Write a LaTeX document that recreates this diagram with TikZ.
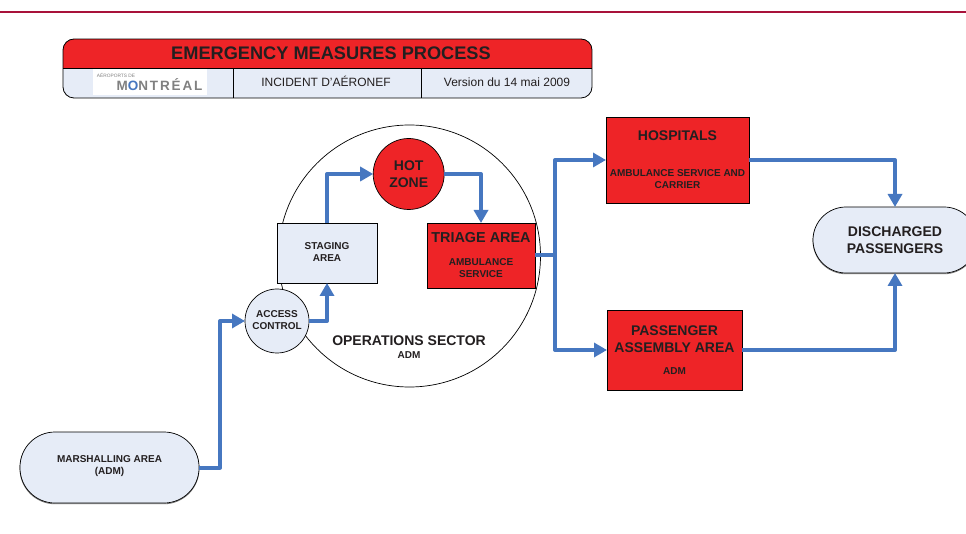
\documentclass[tikz,border=0pt]{standalone}
\usepackage{fontspec}
\setmainfont{Liberation Sans}
\newfontfamily\logofont[LetterSpace=14]{Liberation Sans}
\usetikzlibrary{arrows.meta}
\definecolor{bandred}{HTML}{EE2427}
\definecolor{paleblue}{HTML}{E6ECF7}
\definecolor{flowblue}{HTML}{4677C0}
\definecolor{inkdark}{HTML}{231F20}
\definecolor{rulered}{HTML}{A8123A}
\tikzset{
  x=1pt,y=-1pt,
  every node/.style={outer sep=0pt,inner sep=0pt,text=inkdark,font=\bfseries},
  softshadow/.style={preaction={draw=black!55,line width=0.8pt,transform canvas={yshift=-0.8pt}}},
  redbox/.style={rectangle,draw=black,line width=0.7pt,fill=bandred,softshadow},
  palebox/.style={rectangle,draw=black,line width=0.7pt,fill=paleblue,softshadow},
  roundnode/.style={circle,draw=black,line width=0.7pt},
  flow/.style={draw=flowblue,line width=4pt,line join=round,-{Triangle[length=13pt,width=14pt]}},
  flowplain/.style={draw=flowblue,line width=4pt,line join=round},
  big/.style={font=\fontsize{14}{17}\selectfont\bfseries,align=center},
  small/.style={font=\fontsize{10}{12}\selectfont\bfseries,align=center},
  plainlabel/.style={font=\fontsize{12}{14}\selectfont,text=inkdark},
}
\begin{document}
\begin{tikzpicture}
\useasboundingbox (0,0) rectangle (966,534);
\clip (0,0) rectangle (966,534);
% top rule
\fill[rulered] (0,10.6) rectangle (966,12.8);
% header
\begin{scope}
\clip[rounded corners=11pt] (63,39) rectangle (592,98);
\fill[paleblue] (63,68) rectangle (592,98);
\fill[bandred] (63,39) rectangle (592,68);
\fill[white] (93,69) rectangle (207,95);
\end{scope}
\draw[line width=0.8pt,rounded corners=11pt] (63,39) rectangle (592,98);
\draw[line width=0.8pt] (63,68) -- (592,68);
\draw[line width=0.8pt] (233.5,68) -- (233.5,98);
\draw[line width=0.8pt] (421.5,68) -- (421.5,98);
\node[font=\fontsize{18.2}{20}\selectfont\bfseries] (title) at (331,53.5) {EMERGENCY MEASURES PROCESS};
\node[font=\fontsize{4.8}{5}\selectfont,text=gray] (logoa) at (116,75) {AÉROPORTS DE};
\node[font=\fontsize{13.5}{14}\selectfont\logofont\bfseries,text=gray] (logob) at (159.5,84.5) {M\textcolor{flowblue}{O}NTRÉAL};
\node[plainlabel] (incident) at (326,81.5) {INCIDENT D'AÉRONEF};
\node[plainlabel] (version) at (507,82.5) {Version du 14 mai 2009};
% nodes
\node[roundnode,fill=white,minimum size=262pt] (sector) at (409.5,256) {};
\node[palebox,minimum width=100pt,minimum height=60pt] (staging) at (327,253) {};
\node[small] (stagingt) at (327,252.5) {STAGING\\AREA};
\node[roundnode,fill=paleblue,minimum size=64pt] (access) at (277,321) {};
\node[small] (accesst) at (277,320.5) {ACCESS\\CONTROL};
\node[roundnode,fill=bandred,minimum size=71pt] (hot) at (408.7,174) {};
\node[big] (hott) at (408.7,174) {HOT\\ZONE};
\node[redbox,minimum width=108pt,minimum height=65pt] (triage) at (481,255.5) {};
\node[font=\fontsize{14.4}{16}\selectfont\bfseries] (triaget) at (481,238) {TRIAGE AREA};
\node[small] (triages) at (481,268.5) {AMBULANCE\\SERVICE};
\node[big] (opst) at (409,341) {OPERATIONS SECTOR};
\node[small] (opss) at (409,355.5) {ADM};
\node[redbox,minimum width=143pt,minimum height=86pt] (hosp) at (677.5,160) {};
\node[big] (hospt) at (677.5,136) {HOSPITALS};
\node[small] (hosps) at (677.5,179) {AMBULANCE SERVICE AND\\CARRIER};
\node[redbox,minimum width=135pt,minimum height=80pt] (paa) at (674.5,350) {};
\node[big] (paat) at (674.5,339) {PASSENGER\\ASSEMBLY AREA};
\node[small] (paas) at (674.5,371.5) {ADM};
\node[palebox,rounded corners=33pt,minimum width=164pt,minimum height=66pt] (disch) at (895,240) {};
\node[big] (discht) at (895,240) {DISCHARGED\\PASSENGERS};
\node[palebox,rounded corners=35pt,minimum width=179pt,minimum height=71pt] (marsh) at (109.5,467.5) {};
\node[small] (marsht) at (109.5,466.5) {MARSHALLING AREA\\(ADM)};
% junctions
\coordinate (mbend) at (220,467.5);
\coordinate (tbend) at (555,255.5);
% connectors
\draw[flow] (marsh.east) -- (mbend) |- (access.west);
\draw[flow] (access.east) -| (staging.south);
\draw[flow] (staging.north) |- (hot.west);
\draw[flow] (hot.east) -| (triage.north);
\draw[flowplain] (triage.east) -- (tbend);
\draw[flow] (tbend) |- (hosp.west);
\draw[flow] (tbend) |- (paa.west);
\draw[flow] (hosp.east) -| (disch.north);
\draw[flow] (paa.east) -| (disch.south);
\end{tikzpicture}
\end{document}
